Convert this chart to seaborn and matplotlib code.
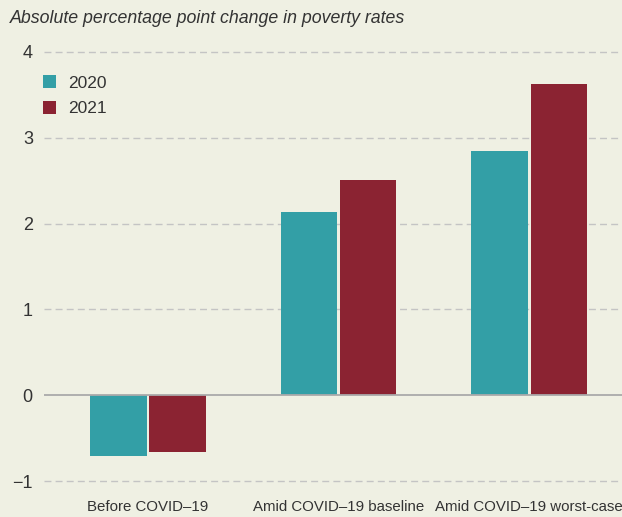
import pandas as pd
import numpy as np
import matplotlib.pyplot as plt
import seaborn as sns

# values
scenarios = ['Before COVID\u201319', 'Amid COVID\u201319 baseline', 'Amid COVID\u201319 worst-case']
years = ['2020', '2021']
change_2020 = [-0.71, 2.13, 2.84]
change_2021 = [-0.66, 2.51, 3.63]
yticks = [-1, 0, 1, 2, 3, 4]

df = pd.DataFrame({
    'scenario': scenarios * 2,
    'year': [years[0]] * 3 + [years[1]] * 3,
    'change': change_2020 + change_2021,
})

bg = '#EFF0E3'
colors = {'2020': '#339FA6', '2021': '#8B2332'}

sns.set_style('white')
plt.rcParams['font.family'] = ['Liberation Sans', 'DejaVu Sans']

fig = plt.figure(figsize=(6.22, 5.17), dpi=100, facecolor=bg)
ax = fig.add_axes([0.0707, 0.0445, 0.9293, 0.880])
ax.set_facecolor(bg)

sns.barplot(data=df, x='scenario', y='change', hue='year', palette=colors,
            width=0.62, gap=0.05, saturation=1, linewidth=0, ax=ax, zorder=3)

ax.set_xlim(-0.546, 2.488)
ax.set_ylim(-1.15, 4.15)
ax.set_yticks(yticks)
for v in yticks:
    if v == 0:
        ax.axhline(0, color='#AAAAAA', lw=1.3, zorder=4)
    else:
        ax.axhline(v, color='#C4C4C4', lw=1, ls=(0, (5, 3)), zorder=1)

for s in ax.spines.values():
    s.set_visible(False)
ax.tick_params(axis='both', length=0, colors='#333333')
ax.tick_params(axis='y', pad=8, labelsize=13)
ax.tick_params(axis='x', pad=4, labelsize=10.8)
ax.set_xlabel('')
ax.set_ylabel('')

leg = ax.legend(loc='upper left', bbox_to_anchor=(-0.028, 0.955), frameon=False,
                handlelength=0.75, handleheight=0.75, handletextpad=0.7,
                labelspacing=0.6, prop={'size': 12.5})
for t in leg.get_texts():
    t.set_color('#333333')

fig.text(0.016, 0.965, 'Absolute percentage point change in poverty rates',
         fontsize=12.8, style='italic', color='#333333', va='center')

fig.savefig('out.png', dpi=100, facecolor=bg)
